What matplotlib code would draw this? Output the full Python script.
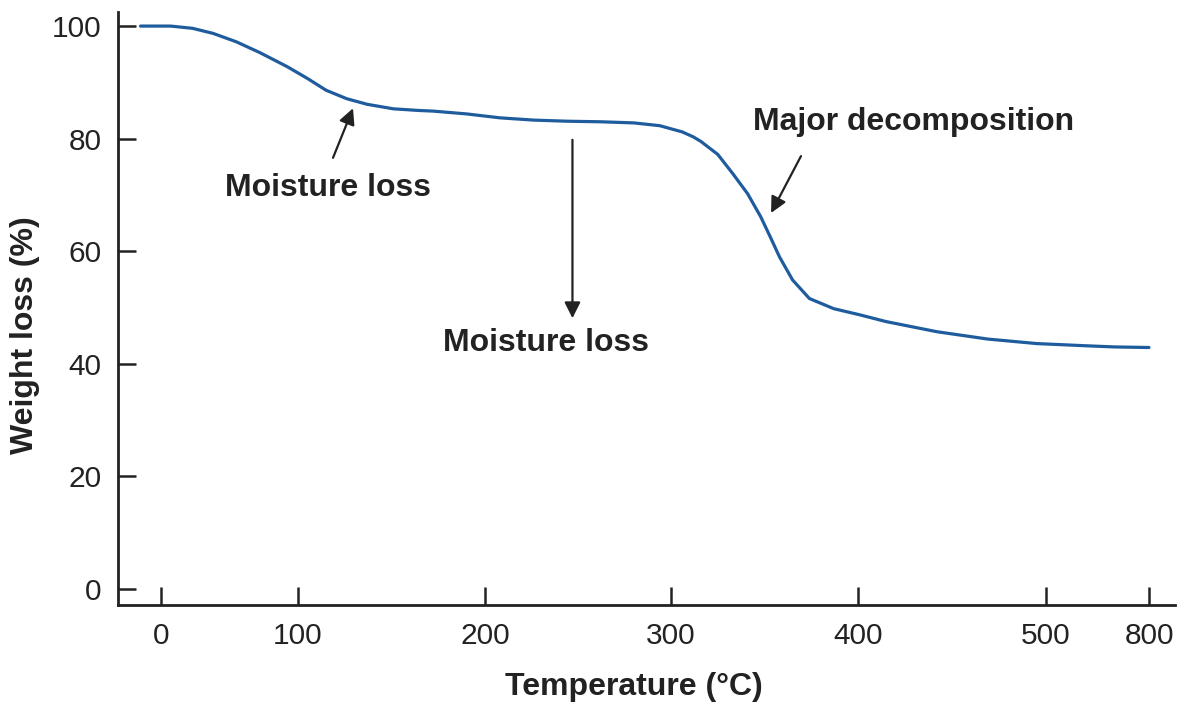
import numpy as np
import matplotlib
matplotlib.use("Agg")
import matplotlib.pyplot as plt

plt.rcParams['font.family'] = ['Liberation Sans', 'DejaVu Sans']

# TGA curve
temperature = [-15, 7, 23, 38, 55, 72, 92, 105, 115, 126, 137, 151, 165, 172, 190,
               208, 226, 244, 262, 280, 294, 306, 312, 316, 325, 333, 341, 348, 353,
               358, 365, 374, 387, 401, 415, 442, 469, 495, 619, 700, 800]
weight = [100.0, 100.0, 99.6, 98.7, 97.2, 95.3, 92.8, 90.7, 88.6, 87.1, 86.1, 85.3, 85.0,
          84.9, 84.4, 83.7, 83.3, 83.1, 83.0, 82.8, 82.3, 81.2, 80.3, 79.5, 77.2, 73.8,
          70.2, 66.1, 62.6, 59.0, 54.9, 51.6, 49.8, 48.7, 47.5, 45.7, 44.4, 43.6, 43.2,
          43.0, 42.9]

x_ticks = [0, 100, 200, 300, 400, 500, 800]
y_ticks = [0, 20, 40, 60, 80, 100]

# the temperature axis is not linear: tick spacing is irregular
tick_pos = [161, 298, 485, 671, 858, 1046, 1149]


def _lin(v, xs, ys):
    v = np.asarray(v, dtype=float)
    out = np.interp(v, xs, ys)
    lo = v < xs[0]
    hi = v > xs[-1]
    out = np.where(lo, ys[0] + (v - xs[0]) * (ys[1] - ys[0]) / (xs[1] - xs[0]), out)
    out = np.where(hi, ys[-1] + (v - xs[-1]) * (ys[-1] - ys[-2]) / (xs[-1] - xs[-2]), out)
    return out


def fwd(t):
    return _lin(t, x_ticks, tick_pos)


def inv(p):
    return _lin(p, tick_pos, x_ticks)


ink = '#222222'
fig = plt.figure(figsize=(11.77, 7.02), dpi=100)
ax = fig.add_axes([0.1003, 0.1382, 0.898, 0.8447])
ax.set_xscale('function', functions=(fwd, inv))

ax.plot(temperature, weight, color='#1f5c9e', lw=2.3, solid_capstyle='round',
        solid_joinstyle='round')

ax.set_xlim(float(inv(118)), float(inv(1175)))
ax.set_ylim(-2.84, 102.5)
ax.set_xticks(x_ticks)
ax.set_xticklabels([str(t) for t in x_ticks])
ax.set_yticks(y_ticks)
ax.minorticks_off()

for s in ['top', 'right']:
    ax.spines[s].set_visible(False)
for s in ['left', 'bottom']:
    ax.spines[s].set_linewidth(2.0)
    ax.spines[s].set_color(ink)

ax.tick_params(direction='in', length=13, width=1.8, color=ink, labelsize=21.5,
               labelcolor=ink, pad=12)

ax.set_xlabel('Temperature (°C)', fontsize=23, fontweight='bold', color=ink)
ax.set_ylabel('Weight loss (%)', fontsize=23, fontweight='bold', color=ink)
ax.xaxis.set_label_coords(0.488, -0.113)
ax.yaxis.set_label_coords(-0.074, 0.455)

arrow = dict(arrowstyle='-|>', lw=1.6, color=ink, mutation_scale=24,
             shrinkA=0, shrinkB=0)
ax.annotate('', xy=(129.4, 85.4), xytext=(118.7, 76.6), arrowprops=arrow)
ax.annotate('', xy=(247, 48.1), xytext=(247, 79.8), arrowprops=arrow)
ax.annotate('', xy=(353.5, 66.8), xytext=(369.5, 76.9), arrowprops=arrow)

txt = dict(fontsize=23, fontweight='bold', color=ink, ha='center', va='center')
ax.text(116, 71.2, 'Moisture loss', **txt)
ax.text(233, 43.7, 'Moisture loss', **txt)
ax.text(429.8, 82.9, 'Major decomposition', **txt)

fig.savefig('out.png', dpi=100)
